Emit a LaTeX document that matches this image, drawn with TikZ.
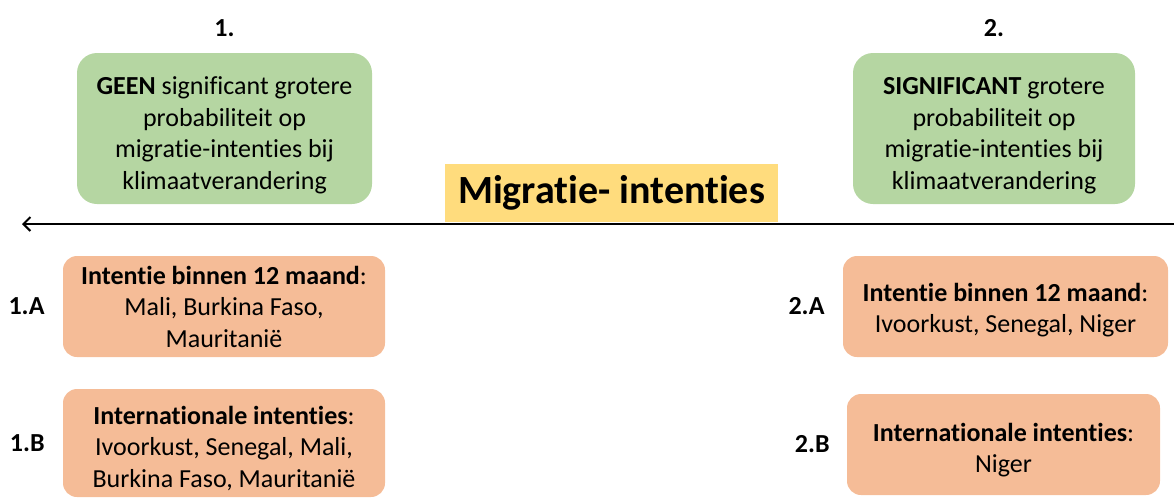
\documentclass[tikz,border=0pt]{standalone}
\usepackage{fontspec}
\setmainfont{Carlito}[Ligatures={NoCommon}]
\usetikzlibrary{positioning}
\usetikzlibrary{arrows.meta}
\usepackage{xcolor}
\definecolor{boxgreen}{HTML}{B5D6A2}
\definecolor{boxorange}{HTML}{F5BC97}
\definecolor{boxyellow}{HTML}{FFDC7D}
\tikzset{
  resultbox/.style={rectangle, rounded corners=20pt, fill=boxgreen, align=center, inner sep=0pt,
    font=\fontsize{26}{31.5}\selectfont},
  countrybox/.style={rectangle, rounded corners=14pt, fill=boxorange, align=center, inner sep=0pt,
    font=\fontsize{26}{31.5}\selectfont},
  numlabel/.style={font=\fontsize{26}{30}\selectfont\bfseries, inner sep=0pt}
}

\begin{document}
\begin{tikzpicture}[x=1pt,y=-1pt]
            \useasboundingbox (0,0) rectangle (1174,498);
            % significance boxes
            \node[resultbox, minimum width=295pt, minimum height=151pt, text height=126pt] (geen) at (224.5,128.5)
              {\textbf{GEEN} significant grotere\\probabiliteit op\\migratie-intenties bij\\klimaatverandering};
            \node[resultbox, minimum width=282pt, minimum height=151pt, text height=126pt] (sign) at (994,128.5)
              {\textbf{SIGNIFICANT} grotere\\probabiliteit op\\migratie-intenties bij\\klimaatverandering};
            \node[numlabel, above=16pt of geen] (n1) {1.};
            \node[numlabel, above=16pt of sign] (n2) {2.};

            % axis
            \coordinate (axisR) at (1174,224);
            \coordinate (axisL) at (22,224);
            \draw[-{Straight Barb[length=7pt,width=14pt,line width=2pt]}, line width=2pt] (axisR) -- (axisL);
            \node[rectangle, fill=boxyellow, minimum width=333pt, minimum height=58pt, inner sep=0pt,
              font=\fontsize{40}{46}\selectfont\bfseries] (title) at (611.5,193) {Migratie- intenties};

            % country boxes
            \node[countrybox, minimum width=322pt, minimum height=101pt] (b1a) at (224,306.5)
              {\textbf{Intentie binnen 12 maand}:\\Mali, Burkina Faso,\\Mauritanië};
            \node[countrybox, minimum width=325pt, minimum height=101pt, text height=57pt] (b2a) at (1005.5,306.5)
              {\textbf{Intentie binnen 12 maand}:\\Ivoorkust, Senegal, Niger};
            \node[countrybox, minimum width=322pt, minimum height=108pt, text height=92pt] (b1b) at (224,443)
              {\textbf{Internationale intenties}:\\Ivoorkust, Senegal, Mali,\\Burkina Faso, Mauritanië};
            \node[countrybox, minimum width=313pt, minimum height=101pt, text height=61pt] (b2b) at (1003.5,444.5)
              {\textbf{Internationale intenties}:\\Niger};
            \node[numlabel, left=18pt of b1a] (l1a) {1.A};
            \node[numlabel, left=18pt of b2a] (l2a) {2.A};
            \node[numlabel, left=18pt of b1b] (l1b) {1.B};
            \node[numlabel, left=17pt of b2b] (l2b) {2.B};
        \end{tikzpicture}
\end{document}
